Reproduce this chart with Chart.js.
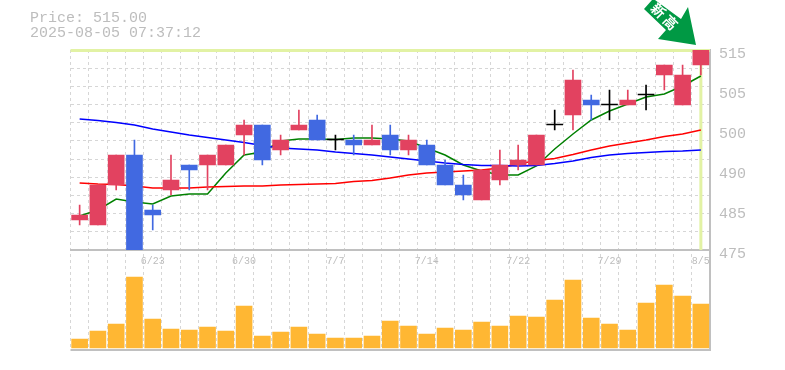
<!DOCTYPE html>
<html>
<head>
<meta charset="utf-8">
<script src="https://cdn.jsdelivr.net/npm/chart.js@4/dist/chart.umd.min.js"></script>
<style>
html,body{margin:0;padding:0;background:#fff;width:785px;height:370px;overflow:hidden}
#wrap{position:relative;width:785px;height:370px}
canvas{position:absolute;left:0;top:0}
.t{position:absolute;left:30px;font:15px/15px "Liberation Mono",monospace;color:#bdbdbd;white-space:pre}
svg{position:absolute;left:0;top:0}
</style>
</head>
<body>
<div id="wrap">
<canvas id="c" width="785" height="370"></canvas>
<div class="t" style="top:11px">Price: 515.00</div>
<div class="t" style="top:26px">2025-08-05 07:37:12</div>
<svg width="785" height="60" viewBox="0 0 785 60">
<polygon points="644,9 652,0 655,0 681,19 688,7 696,45 658,39 666,30" fill="#009944"/>
<text transform="translate(666,17) rotate(45)" text-anchor="middle" dominant-baseline="central" font-family="Noto Sans CJK JP" font-weight="700" font-size="14" letter-spacing="3" fill="#fff">新高</text>
</svg>
</div>
<script>
const categories = ['6/17','6/18','6/19','6/20','6/23','6/24','6/25','6/26','6/27','6/30','7/1','7/2','7/3','7/4','7/7','7/8','7/9','7/10','7/11','7/14','7/15','7/16','7/17','7/18','7/22','7/23','7/24','7/25','7/28','7/29','7/30','7/31','8/1','8/4','8/5'];
const xTickLabels = ['6/23','6/30','7/7','7/14','7/22','7/29','8/5'];
const priceTickValues = [515,507,499,491,483,475];
const priceTickLabels = ['515','505','500','490','485','475'];
const opens  = [481,480,488,494,483,487,492,492,492,498,500,495,499,501,497,497,496,498,495,496,492,488,485,489,492,492,500,502,505,504,504,506,510,504,512];
const closes = [482,488,494,475,482,489,491,494,496,500,493,497,500,497,497,496,497,495,497,492,488,486,491,492,493,498,500,509,504,504,505,506,512,510,515];
const highs  = [484,488,494,497,484,494,492,494,496,501,500,498,503,502,498,498,500,500,498,497,493,490,491,495,496,498,503,511,506,507,507,508,512,512,515];
const lows   = [480,480,487,475,479,486,487,487,492,494,492,494,499,497,495,494,496,494,494,492,488,485,485,488,491,492,499,499,501,501,504,503,507,504,510];
const maShort = [481.8,483.0,485.2,484.6,484.2,485.8,486.2,486.2,490.4,494.0,494.6,496.8,497.2,497.2,497.1,497.4,497.4,497.2,496.8,495.4,494.0,492.0,490.8,490.0,490.0,491.8,495.2,498.2,501.0,502.8,504.2,505.6,506.2,507.8,509.8];
const maMid   = [488.4,488.2,488.1,487.8,487.4,487.4,487.4,487.6,487.7,487.8,487.8,488.0,488.1,488.2,488.3,488.7,488.9,489.4,490.0,490.4,490.6,490.8,491.0,491.4,492.2,492.9,493.3,494.1,495.0,495.8,496.4,497.0,497.7,498.2,499.0];
const maLong  = [501.2,500.9,500.5,500.0,499.2,498.6,498.0,497.5,497.0,496.5,495.9,495.4,495.2,495.0,494.6,494.3,494.0,493.6,493.2,492.8,492.4,492.1,491.9,491.9,491.8,491.9,492.3,492.8,493.5,494.0,494.3,494.5,494.7,494.8,495.0];
const volumes = [9,17,24,71,29,19,18,21,17,42,12,16,21,14,10,10,12,27,22,14,20,18,26,22,32,31,48,68,30,24,18,45,63,52,44];
const lastPrice = 515;

const RED='#e24260', BLUE='#4169e1', BLACK='#000000', ORANGE='#ffb733', GRID='#d6d6d6', FRAME='#c0c0c0', HL='#e2f2a4', LABEL='#bdbdbd';
const candleColor = c => {
  const i=c.dataIndex;
  return closes[i]===opens[i] ? BLACK : (closes[i]>opens[i] ? RED : BLUE);
};
const lineDs = (data,color) => ({type:'line',data,yAxisID:'price',borderColor:color,borderWidth:1.5,pointRadius:0,tension:0,order:5,fill:false});

const frame = {
  id:'frame',
  beforeDatasetsDraw(chart){
    const {ctx,chartArea:a,scales}=chart;
    const y=scales.price.getPixelForValue(lastPrice);
    const x=scales.x.getPixelForValue(categories.length-1);
    ctx.save();
    ctx.strokeStyle=HL; ctx.lineWidth=3;
    ctx.beginPath();
    ctx.moveTo(a.left,y+0.5); ctx.lineTo(a.right,y+0.5);
    ctx.moveTo(x,y); ctx.lineTo(x,scales.price.bottom);
    ctx.stroke();
    ctx.restore();
  },
  afterDatasetsDraw(chart){
    const {ctx,chartArea:a}=chart;
    ctx.save();
    ctx.strokeStyle=FRAME; ctx.lineWidth=2;
    ctx.beginPath();
    ctx.moveTo(a.left,a.bottom); ctx.lineTo(a.right+1,a.bottom);
    ctx.stroke();
    ctx.restore();
  }
};

new Chart(document.getElementById('c'),{
  data:{
    labels:categories,
    datasets:[
      lineDs(maLong,'#0000ff'),
      lineDs(maMid,'#ff0000'),
      lineDs(maShort,'#008000'),
      {type:'bar',data:categories.map((_,i)=>[lows[i],highs[i]]),yAxisID:'price',backgroundColor:candleColor,barThickness:1,grouped:false,order:2},
      {type:'bar',data:categories.map((_,i)=>[opens[i],closes[i]]),yAxisID:'price',backgroundColor:candleColor,barThickness:16,minBarLength:1,grouped:false,order:1},
      {type:'bar',data:volumes,yAxisID:'vol',backgroundColor:ORANGE,barThickness:16,grouped:false,order:1}
    ]
  },
  options:{
    responsive:false,animation:false,
    layout:{padding:{left:70.5,top:50,right:0,bottom:20}},
    plugins:{legend:{display:false},tooltip:{enabled:false}},
    scales:{
      x:{
        type:'category',position:{vol:98},offset:true,
        grid:{offset:true,color:GRID,lineWidth:1,drawTicks:false},
        border:{display:true,color:FRAME,width:2,dash:[3,3]},
        ticks:{autoSkip:false,maxRotation:0,minRotation:0,padding:5,color:LABEL,font:{family:'Liberation Mono',size:10},
          callback(v){const l=this.getLabelForValue(v);return xTickLabels.includes(l)?l:'';}}
      },
      price:{
        type:'linear',position:'left',stack:'main',stackWeight:2,weight:1,min:475,max:515,
        grid:{color:GRID,lineWidth:1,drawTicks:false},
        border:{display:false,dash:[3,3]},
        ticks:{display:false,stepSize:40/11},
        afterFit(s){s.width=0;}
      },
      vol:{
        type:'linear',position:'left',stack:'main',stackWeight:1,weight:0,min:-2,max:98,
        grid:{display:false},border:{display:false},
        ticks:{display:false},
        afterFit(s){s.width=0;}
      },
      labels:{
        type:'linear',position:'right',min:455.8,max:515.8,
        grid:{display:false},
        border:{display:true,color:FRAME,width:2},
        afterBuildTicks(s){s.ticks=priceTickValues.map(value=>({value}));},
        ticks:{autoSkip:false,padding:1,color:LABEL,font:{family:'Liberation Mono',size:15},
          callback(v){return priceTickLabels[priceTickValues.indexOf(v)]||'';}},
        afterFit(s){s.width=75;}
      }
    }
  },
  plugins:[frame]
});
</script>
</body>
</html>
